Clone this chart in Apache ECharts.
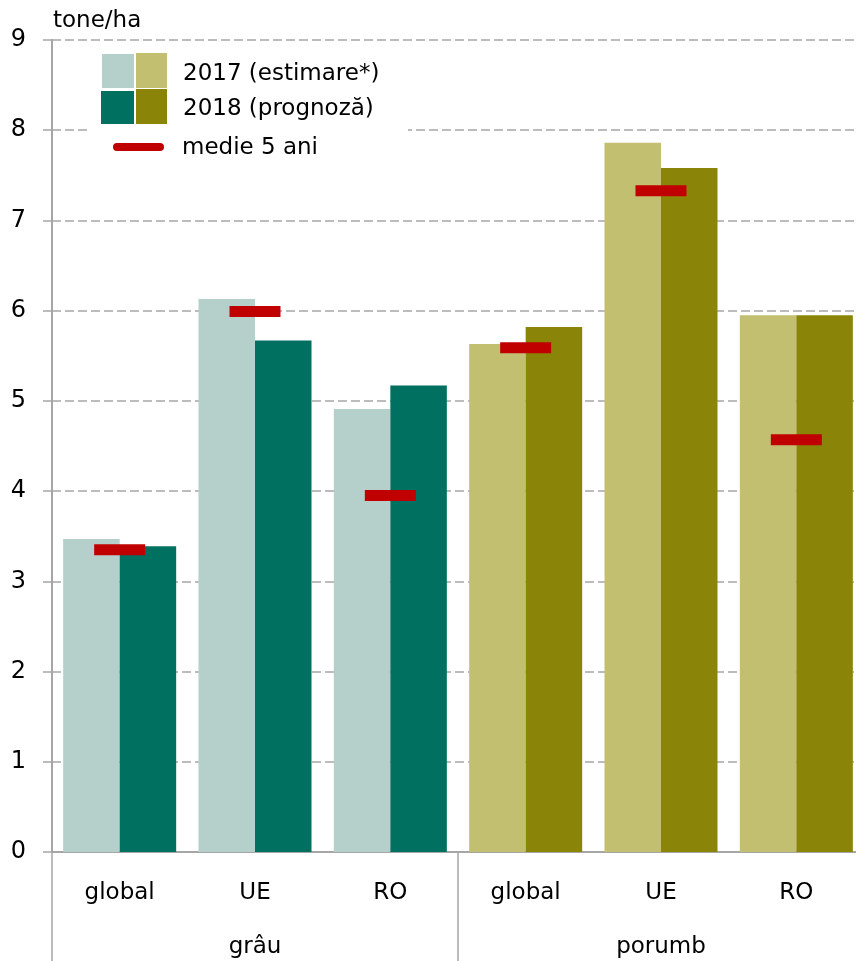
<!DOCTYPE html>
<html>
<head>
<meta charset="utf-8">
<script src="https://cdn.jsdelivr.net/npm/echarts@6/dist/echarts.min.js"></script>
<style>html,body{margin:0;padding:0;background:#fff}#c{width:856px;height:961px}</style>
</head>
<body>
<div id="c"></div>
<script>
var categories = ['global', 'UE', 'RO', 'global', 'UE', 'RO'];
var groups = ['grâu', 'porumb'];
var groupOfCategory = [0, 0, 0, 1, 1, 1];
var v2017 = [3.47, 6.13, 4.91, 5.63, 7.86, 5.95];
var v2018 = [3.39, 5.67, 5.17, 5.82, 7.58, 5.95];
var mean5 = [3.35, 5.99, 3.95, 5.59, 7.33, 4.57];
var yTicks = [0, 1, 2, 3, 4, 5, 6, 7, 8, 9];
var legendTexts = ['2017 (estimare*)', '2018 (prognoză)', 'medie 5 ani'];
var unitLabel = 'tone/ha';

var colors2017 = ['#B5CFCB', '#C2C070'];
var colors2018 = ['#007161', '#8A8509'];
var FONT = 'DejaVu Sans';
var GRAY = '#A6A6A6';

function items(vals, palette) {
  return vals.map(function (v, i) {
    return { value: v, itemStyle: { color: palette[groupOfCategory[i]] } };
  });
}

var chart = echarts.init(document.getElementById('c'), null, { renderer: 'canvas' });
chart.setOption({
  animation: false,
  backgroundColor: '#fff',
  grid: { left: 52, width: 812, top: 40, height: 812, containLabel: false, outerBoundsMode: 'none' },
  xAxis: [{
    type: 'category',
    data: categories,
    axisLine: { show: true, lineStyle: { color: GRAY, width: 2 } },
    axisTick: { show: false },
    axisLabel: { margin: 30, fontFamily: FONT, fontSize: 23, color: '#000', lineHeight: 23 },
    splitLine: { show: false }
  }, {
    type: 'category',
    data: groups,
    position: 'bottom',
    axisLine: { show: false },
    axisTick: { show: true, length: 112, lineStyle: { color: GRAY, width: 1.5 } },
    axisLabel: { margin: 84, fontFamily: FONT, fontSize: 23, color: '#000', lineHeight: 23 },
    splitLine: { show: false }
  }],
  yAxis: {
    type: 'value',
    min: 0, max: 9, interval: 1,
    axisLine: { show: true, lineStyle: { color: GRAY, width: 2 } },
    axisTick: { show: true, length: 9, lineStyle: { color: GRAY, width: 1.5 } },
    axisLabel: {
      margin: 26, fontFamily: FONT, fontSize: 24, color: '#000',
      formatter: function (v) { return yTicks.indexOf(v) >= 0 ? String(v) : ''; }
    },
    splitLine: { show: true, lineStyle: { color: GRAY, width: 1.5, type: [9, 4] } }
  },
  series: [{
    name: legendTexts[0],
    type: 'bar',
    xAxisIndex: 0,
    data: items(v2017, colors2017),
    barGap: '0%',
    barCategoryGap: '16.5%',
    z: 2
  }, {
    name: legendTexts[1],
    type: 'bar',
    xAxisIndex: 0,
    data: items(v2018, colors2018),
    barGap: '0%',
    barCategoryGap: '16.5%',
    z: 2
  }, {
    name: legendTexts[2],
    type: 'scatter',
    xAxisIndex: 0,
    data: mean5,
    symbol: 'rect',
    symbolSize: [51, 11],
    itemStyle: { color: '#C00000', opacity: 1 },
    z: 5
  }],
  graphic: [
    { type: 'rect', shape: { x: 88, y: 45, width: 320, height: 122 }, style: { fill: '#fff' }, z: 10 },
    { type: 'rect', shape: { x: 102, y: 54, width: 32, height: 34 }, style: { fill: colors2017[0] }, z: 11 },
    { type: 'rect', shape: { x: 136, y: 53, width: 31, height: 35 }, style: { fill: colors2017[1] }, z: 11 },
    { type: 'rect', shape: { x: 101, y: 91, width: 33, height: 33 }, style: { fill: colors2018[0] }, z: 11 },
    { type: 'rect', shape: { x: 136, y: 89, width: 31, height: 35 }, style: { fill: colors2018[1] }, z: 11 },
    { type: 'line', shape: { x1: 117, y1: 147, x2: 160, y2: 147 }, style: { stroke: '#C00000', lineWidth: 8, lineCap: 'round' }, z: 11 },
    { type: 'text', x: 183, y: 74, style: { text: legendTexts[0], fontFamily: FONT, fontSize: 23, fill: '#000', textVerticalAlign: 'middle', verticalAlign: 'middle' }, z: 11 },
    { type: 'text', x: 183, y: 109, style: { text: legendTexts[1], fontFamily: FONT, fontSize: 23, fill: '#000', textVerticalAlign: 'middle', verticalAlign: 'middle' }, z: 11 },
    { type: 'text', x: 182, y: 148, style: { text: legendTexts[2], fontFamily: FONT, fontSize: 23, fill: '#000', textVerticalAlign: 'middle', verticalAlign: 'middle' }, z: 11 },
    { type: 'text', x: 53, y: 21, style: { text: unitLabel, fontFamily: FONT, fontSize: 23, fill: '#000', textVerticalAlign: 'middle', verticalAlign: 'middle' }, z: 11 }
  ]
});
</script>
</body>
</html>
